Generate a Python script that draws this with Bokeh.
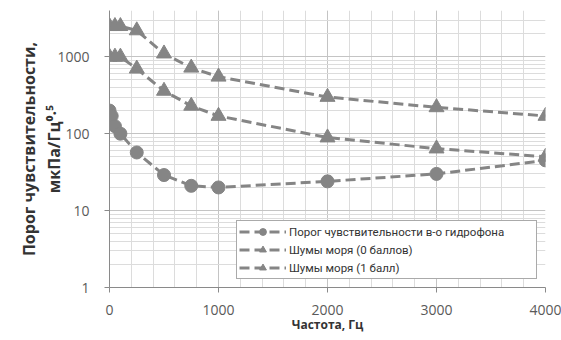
from bokeh.plotting import figure
from bokeh.models import Range1d, FixedTicker, LinearAxis, Legend, LegendItem, CustomJSTickFormatter
from bokeh.embed import file_html
from bokeh.resources import INLINE

# ---- data ----
freq_hydro = [0, 20, 50, 100, 250, 500, 750, 1000, 2000, 3000, 4000]
hydrophone = [200, 170, 125, 100, 57, 29, 21, 20, 24, 30, 45]
freq_sea = [0, 50, 100, 250, 500, 750, 1000, 2000, 3000, 4000]
sea_0 = [1000, 1000, 1000, 700, 360, 230, 170, 89, 64, 50]
sea_1 = [2500, 2500, 2500, 2200, 1100, 720, 550, 300, 220, 170]

x_major = [0, 1000, 2000, 3000, 4000]
x_minor = [v for v in range(0, 4001, 200)]
y_major = [1, 10, 100, 1000]
y_minor = [m * d for d in (1, 10, 100) for m in range(2, 10)] + [2000, 3000, 4000]

label_hydro = "Порог чувствительности в-о гидрофона"
label_sea0 = "Шумы моря (0 баллов)"
label_sea1 = "Шумы моря (1 балл)"
x_title = "Частота, Гц"
y_title_1 = "Порог чувствительности,"
y_title_2 = "мкПа/Гц⁰·⁵"

GREY = "#858585"
FONT = "Open Sans"

p = figure(width=561, height=338, output_backend="svg", toolbar_location=None,
           y_axis_type="log", x_range=Range1d(0, 4000), y_range=Range1d(1, 4000),
           min_border_left=109, min_border_right=16, min_border_top=10, min_border_bottom=51)
p.outline_line_color = None
p.background_fill_color = "white"
p.border_fill_color = "white"

p.xaxis.ticker = FixedTicker(ticks=x_major, minor_ticks=x_minor)
p.yaxis.ticker = FixedTicker(ticks=y_major, minor_ticks=y_minor)
p.yaxis.formatter = CustomJSTickFormatter(code="return tick.toFixed(0)")

for ax in (p.xaxis, p.yaxis):
    ax.axis_line_color = "#8a8a8a"
    ax.major_tick_line_color = "#8a8a8a"
    ax.major_tick_out = 5
    ax.major_tick_in = 0
    ax.minor_tick_line_color = None
    ax.major_label_text_font = FONT
    ax.major_label_text_font_size = "14px"
    ax.major_label_text_color = "#5a5a5a"
    ax.axis_label_text_font = FONT
    ax.axis_label_text_font_style = "bold"
    ax.axis_label_text_color = "#333333"

p.xaxis.major_label_standoff = 12
p.xaxis.axis_label = x_title
p.xaxis.axis_label_text_font_size = "12px"
p.xaxis.axis_label_standoff = -2

p.yaxis.major_label_standoff = 15
p.yaxis.axis_label = y_title_2
p.yaxis.axis_label_text_font_size = "16px"
p.yaxis.axis_label_standoff = -11

outer = LinearAxis(axis_label=y_title_1, ticker=FixedTicker(ticks=[]),
                   axis_line_color=None, major_tick_line_color=None,
                   minor_tick_line_color=None, major_tick_out=0,
                   major_label_standoff=0, axis_label_standoff=1,
                   axis_label_text_font=FONT, axis_label_text_font_style="bold",
                   axis_label_text_font_size="16px", axis_label_text_color="#333333")
p.add_layout(outer, "left")

for g in (p.xgrid, p.ygrid):
    g.grid_line_color = "#c4c4c4"
    g.grid_line_width = 1
    g.minor_grid_line_color = "#dcdcdc"
    g.minor_grid_line_width = 1

r1l = p.line(freq_hydro, hydrophone, line_color=GREY, line_width=3, line_dash="10 5")
r1m = p.scatter(freq_hydro, hydrophone, marker="circle", size=13, fill_color=GREY, line_color=GREY)
r2l = p.line(freq_sea, sea_0, line_color=GREY, line_width=3, line_dash="10 5")
r2m = p.scatter(freq_sea, sea_0, marker="triangle", size=15, fill_color=GREY, line_color=GREY)
r3l = p.line(freq_sea, sea_1, line_color=GREY, line_width=3, line_dash="10 5")
r3m = p.scatter(freq_sea, sea_1, marker="triangle", size=15, fill_color=GREY, line_color=GREY)

legend = Legend(items=[
    LegendItem(label=label_hydro, renderers=[r1l, r1m]),
    LegendItem(label=label_sea0, renderers=[r2l, r2m]),
    LegendItem(label=label_sea1, renderers=[r3l, r3m]),
], location="bottom_right")
legend.margin = 8
legend.padding = 2
legend.spacing = 1
legend.label_height = 17
legend.glyph_height = 17
legend.glyph_width = 47
legend.label_standoff = 3
legend.label_width = 245
legend.label_text_font = "Roboto"
legend.label_text_font_size = "11.5px"
legend.label_text_color = "#333333"
legend.border_line_color = "#555555"
legend.border_line_width = 1
legend.background_fill_color = "white"
legend.background_fill_alpha = 1
p.add_layout(legend, "center")

open("out.html", "w").write(file_html(p, INLINE))
